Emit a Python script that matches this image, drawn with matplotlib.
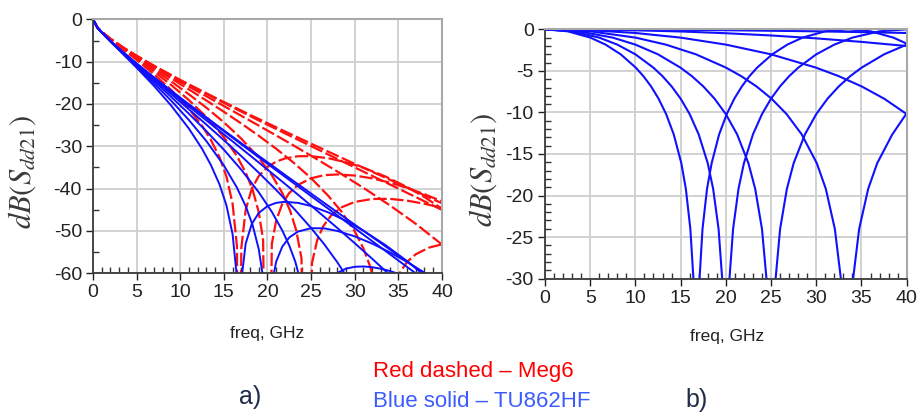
import matplotlib.pyplot as plt
from matplotlib.ticker import MultipleLocator

plt.rcParams['font.family'] = ['Liberation Sans', 'DejaVu Sans']
plt.rcParams['axes.unicode_minus'] = False
plt.rcParams['mathtext.fontset'] = 'stix'

# ---- a) insertion loss, Meg6 (red dashed) ----
meg6_f1 = [0, 0.5, 1, 2, 3.5, 5, 7, 9, 11, 12.5, 13.5, 14.5, 15.3, 16, 16.5, 16.75, 17, 17.5, 18.2, 19, 20, 21, 22, 23.5, 25, 27, 29, 31, 33.5, 36, 38, 40]
meg6_db1 = [0, -1.95, -2.99, -4.75, -7.18, -9.59, -12.98, -16.74, -21.13, -25.14, -28.42, -32.55, -37.14, -43.54, -53.58, -140, -54.08, -45.03, -40.02, -37.03, -34.89, -33.61, -32.87, -32.34, -32.32, -32.82, -33.76, -35.05, -37.11, -39.62, -42.0, -44.73]
meg6_f2 = [0, 0.5, 1, 2, 3.5, 5, 7, 9, 11, 13, 15, 16.5, 17.5, 18.3, 19, 19.5, 20, 20.5, 21, 21.7, 22.5, 23.5, 25, 26.5, 28, 30, 32, 34, 36, 38, 40]
meg6_db2 = [0, -1.95, -2.98, -4.71, -7.03, -9.29, -12.35, -15.57, -19.10, -23.07, -27.81, -32.31, -36.16, -40.28, -45.56, -52.06, -140, -53.03, -47.50, -43.58, -41.02, -39.12, -37.55, -36.81, -36.65, -36.90, -37.57, -38.56, -39.82, -41.31, -43.0]
meg6_f3 = [0, 0.5, 1, 2, 3.5, 5, 7, 9, 11, 13, 15, 17, 19, 20.5, 21.7, 22.6, 23.3, 23.9, 24.5, 25.1, 25.7, 26.4, 27.3, 28.5, 30, 32, 34, 36, 38, 40]
meg6_db3 = [0, -1.94, -2.97, -4.67, -6.92, -9.06, -11.87, -14.72, -17.72, -20.88, -24.32, -28.19, -32.70, -36.82, -41.03, -45.23, -49.88, -56.46, -140, -57.59, -52.15, -48.83, -46.34, -44.40, -43.14, -42.44, -42.41, -42.83, -43.57, -44.53]
meg6_f4 = [0, 0.5, 1, 2, 3.5, 5, 7, 9, 11, 13, 15, 17, 19, 21, 23, 25, 27, 28.5, 30, 31, 31.8, 32.5, 33.3, 34.1, 35, 36, 37, 38.5, 40]
meg6_db4 = [0, -1.94, -2.96, -4.64, -6.82, -8.84, -11.44, -13.99, -16.57, -19.17, -21.84, -24.61, -27.51, -30.57, -33.88, -37.51, -41.76, -45.47, -50.08, -54.12, -58.57, -64.66, -140, -66.12, -60.41, -57.30, -55.50, -53.94, -53.15]
meg6_f5 = [0, 0.5, 1, 2, 3.5, 5, 7, 10, 13, 16, 19, 22, 25, 28, 31, 34, 37, 40]
meg6_db5 = [0, -1.94, -2.95, -4.62, -6.75, -8.71, -11.17, -14.72, -18.18, -21.63, -25.10, -28.61, -32.22, -35.94, -39.81, -43.90, -48.31, -53.20]
meg6_f6 = [0, 0.5, 1, 2, 3.5, 5, 7, 10, 14, 18, 22, 26, 30, 34, 38, 40]
meg6_db6 = [0, -1.94, -2.95, -4.60, -6.70, -8.63, -11.02, -14.40, -18.69, -22.85, -26.93, -30.96, -34.98, -38.98, -43.0, -45.01]
meg6_f7 = [0, 0.5, 1, 2, 3.5, 5, 7, 10, 14, 18, 22, 26, 30, 34, 38, 40]
meg6_db7 = [0, -1.94, -2.95, -4.60, -6.70, -8.60, -10.96, -14.31, -18.51, -22.56, -26.48, -30.33, -34.13, -37.87, -41.59, -43.44]

# ---- a) insertion loss, TU862HF (blue solid) ----
tu_f1 = [0, 0.5, 1, 2, 3.5, 5, 7, 9, 11, 12.5, 13.5, 14.5, 15.3, 16, 16.5, 16.75, 17, 17.5, 18.2, 19, 20, 21, 22, 23.5, 25, 27, 29, 31, 33.5, 36, 38, 40]
tu_db1 = [0, -1.92, -3.12, -5.26, -8.33, -11.42, -15.74, -20.47, -25.83, -30.58, -34.36, -38.99, -43.98, -50.74, -61.03, -140, -61.78, -52.99, -48.34, -45.75, -44.12, -43.35, -43.12, -43.36, -44.11, -45.64, -47.61, -49.94, -53.30, -57.12, -60.54, -64.31]
tu_f2 = [0, 0.5, 1, 2, 3.5, 5, 7, 9, 11, 13, 15, 16.5, 17.5, 18.3, 19, 19.5, 20, 20.5, 21, 21.7, 22.5, 23.5, 25, 26.5, 28, 30, 32, 34, 36, 38, 40]
tu_db2 = [0, -1.92, -3.11, -5.22, -8.18, -11.12, -15.11, -19.30, -23.80, -28.77, -34.51, -39.76, -44.12, -48.64, -54.28, -61.03, -140, -62.51, -57.24, -53.68, -51.53, -50.14, -49.34, -49.38, -49.99, -51.27, -52.98, -55.02, -57.32, -59.85, -62.58]
tu_f3 = [0, 0.5, 1, 2, 3.5, 5, 7, 9, 11, 13, 15, 17, 19, 20.5, 21.7, 22.5, 23.2, 24, 25, 26, 27, 28, 29, 30, 31, 32, 33, 34, 36]
tu_db3 = [0, -1.91, -3.10, -5.18, -8.06, -10.87, -14.59, -18.39, -22.31, -26.42, -30.79, -35.53, -40.85, -45.48, -49.89, -53.45, -57.32, -63.58, -140, -66.50, -61.95, -59.91, -58.90, -58.46, -58.38, -58.56, -58.92, -59.44, -60.79]
tu_f4 = [0, 0.5, 1, 2, 3.5, 5, 7, 9, 11, 13, 15, 17, 19, 21, 23, 25, 26.5, 28, 29, 30]
tu_db4 = [0, -1.91, -3.09, -5.15, -7.97, -10.67, -14.20, -17.72, -21.27, -24.87, -28.54, -32.31, -36.23, -40.31, -44.64, -49.30, -53.12, -57.37, -60.56, -64.22]
tu_f5 = [0, 0.5, 1, 2, 3.5, 5, 7, 10, 13, 16, 19, 22, 25, 28, 30, 32, 34, 36]
tu_db5 = [0, -1.91, -3.08, -5.13, -7.90, -10.54, -13.93, -18.93, -23.88, -28.83, -33.82, -38.86, -44.01, -49.28, -52.88, -56.56, -60.36, -64.30]
tu_f6 = [0, 0.5, 1, 2, 3.5, 5, 7, 10, 14, 18, 22, 26, 30, 34, 38, 40]
tu_db6 = [0, -1.91, -3.08, -5.11, -7.86, -10.46, -13.78, -18.61, -24.89, -31.06, -37.18, -43.27, -49.35, -55.44, -61.54, -64.59]
tu_f7 = [0, 0.5, 1, 2, 3.5, 5, 7, 10, 14, 18, 22, 26, 30, 34, 38, 40]
tu_db7 = [0, -1.91, -3.08, -5.11, -7.85, -10.44, -13.73, -18.52, -24.71, -30.77, -36.73, -42.64, -48.50, -54.33, -60.13, -63.02]

# ---- b) loss-free curves ----
b_f1 = [0, 2.51, 5.03, 6.7, 8.38, 10.05, 10.89, 11.73, 12.56, 13.4, 14.24, 15.08, 15.58, 16.08, 16.42, 16.58, 16.75,
        16.92, 17.09, 17.42, 17.92, 18.43, 19.26, 20.1, 20.94, 21.78, 22.61, 23.45, 25.13, 26.8, 28.48, 30.99, 33.5, 36.01, 38.53, 40]
b_db1 = [0, -0.24, -1.0, -1.84, -3.01, -4.62, -5.64, -6.86, -8.34, -10.2, -12.64, -16.11, -19.2, -24.04, -30.06, -36.08, -90,
         -36.08, -30.06, -24.04, -19.2, -16.11, -12.64, -10.2, -8.34, -6.86, -5.64, -4.62, -3.01, -1.84, -1.0, -0.24, 0, -0.24, -1.0, -1.72]
b_f2 = [0, 3, 6, 8, 10, 12, 13, 14, 15, 16, 17, 18, 18.6, 19.2, 19.6, 19.8, 20,
        20.2, 20.4, 20.8, 21.4, 22, 23, 24, 25, 26, 27, 28, 30, 32, 34, 37, 40]
b_db2 = [0, -0.24, -1.0, -1.84, -3.01, -4.62, -5.64, -6.86, -8.34, -10.2, -12.64, -16.11, -19.2, -24.04, -30.06, -36.08, -90,
         -36.08, -30.06, -24.04, -19.2, -16.11, -12.64, -10.2, -8.34, -6.86, -5.64, -4.62, -3.01, -1.84, -1.0, -0.24, 0]
b_f3 = [0, 3.75, 7.5, 10, 12.5, 15, 16.25, 17.5, 18.75, 20, 21.25, 22.5, 23.25, 24, 24.5, 24.75, 25,
        25.25, 25.5, 26, 26.75, 27.5, 28.75, 30, 31.25, 32.5, 33.75, 35, 37.5, 40]
b_db3 = [0, -0.24, -1.0, -1.84, -3.01, -4.62, -5.64, -6.86, -8.34, -10.2, -12.64, -16.11, -19.2, -24.04, -30.06, -36.08, -90,
         -36.08, -30.06, -24.04, -19.2, -16.11, -12.64, -10.2, -8.34, -6.86, -5.64, -4.62, -3.01, -1.84]
b_f4 = [0, 5.01, 10.02, 13.36, 16.7, 20.04, 21.71, 23.38, 25.05, 26.72, 28.39, 30.06, 31.06, 32.06, 32.73, 33.07, 33.4,
        33.73, 34.07, 34.74, 35.74, 36.74, 38.41, 40]
b_db4 = [0, -0.24, -1.0, -1.84, -3.01, -4.62, -5.64, -6.86, -8.34, -10.2, -12.64, -16.11, -19.2, -24.04, -30.06, -36.08, -90,
         -36.08, -30.06, -24.04, -19.2, -16.11, -12.64, -10.1]
b_f5 = [0, 5, 10, 15, 20, 25, 30, 32.5, 35, 37.5, 40]
b_db5 = [0, -0.11, -0.44, -1.0, -1.84, -3.01, -4.62, -5.64, -6.86, -8.34, -10.2]
b_f6 = [0, 5, 10, 15, 20, 25, 30, 35, 40]
b_db6 = [0, -0.03, -0.12, -0.26, -0.47, -0.74, -1.09, -1.51, -2.01]
b_f7 = [0, 10, 20, 30, 40]
b_db7 = [0, -0.03, -0.11, -0.24, -0.44]

meg6 = [(meg6_f1, meg6_db1), (meg6_f2, meg6_db2), (meg6_f3, meg6_db3), (meg6_f4, meg6_db4),
        (meg6_f5, meg6_db5), (meg6_f6, meg6_db6), (meg6_f7, meg6_db7)]
tu = [(tu_f1, tu_db1), (tu_f2, tu_db2), (tu_f3, tu_db3), (tu_f4, tu_db4),
      (tu_f5, tu_db5), (tu_f6, tu_db6), (tu_f7, tu_db7)]
lossless = [(b_f1, b_db1), (b_f2, b_db2), (b_f3, b_db3), (b_f4, b_db4),
            (b_f5, b_db5), (b_f6, b_db6), (b_f7, b_db7)]

RED = '#ff1010'
BLUE = '#1010ff'

fig = plt.figure(figsize=(9.19, 4.17), dpi=100)
ax1 = fig.add_axes([0.1012, 0.3446, 0.3797, 0.609])
ax2 = fig.add_axes([0.5930, 0.3317, 0.3936, 0.598])


def style(ax, ymin, ystep, yminor):
    ax.set_xlim(0, 40)
    ax.set_ylim(ymin, 0)
    ax.xaxis.set_major_locator(MultipleLocator(5))
    ax.xaxis.set_minor_locator(MultipleLocator(1))
    ax.yaxis.set_major_locator(MultipleLocator(ystep))
    ax.yaxis.set_minor_locator(MultipleLocator(yminor))
    ax.grid(True, which='major', color='#cfcfcf', lw=1.3)
    ax.set_axisbelow(True)
    ax.tick_params(which='major', direction='out', length=5, width=1,
                   labelsize=14, pad=3, colors='#222222')
    ax.tick_params(which='minor', direction='in', length=4, width=1, color='#333333')
    for s in ('left', 'bottom'):
        ax.spines[s].set_color('#3a3a3a')
        ax.spines[s].set_linewidth(1.3)
    for s in ('top', 'right'):
        ax.spines[s].set_color('#a8a8a8')
        ax.spines[s].set_linewidth(1.5)


style(ax1, -60, 10, 5)
style(ax2, -30, 5, 1)

for f, db in meg6:
    ax1.plot(f, db, color=RED, lw=1.6, ls=(0, (6, 1.6)))
for f, db in tu:
    ax1.plot(f, db, color=BLUE, lw=1.4)
for f, db in lossless:
    ax2.plot(f, db, color=BLUE, lw=1.5)

ylab = r'$dB(S_{dd21})$'
fig.text(0.024, 0.587, ylab, rotation=90, ha='center', va='center', fontsize=22, color='#3a3a3a')
fig.text(0.526, 0.592, ylab, rotation=90, ha='center', va='center', fontsize=22, color='#3a3a3a')
fig.text(0.2905, 0.201, 'freq, GHz', ha='center', va='center', fontsize=12.5, color='#222222')
fig.text(0.791, 0.192, 'freq, GHz', ha='center', va='center', fontsize=12.5, color='#222222')

fig.text(0.406, 0.108, 'Red dashed \u2013 Meg6', ha='left', va='center', fontsize=16, color='#ff0000')
fig.text(0.406, 0.036, 'Blue solid \u2013 TU862HF', ha='left', va='center', fontsize=16, color='#3b5bff')
fig.text(0.272, 0.048, 'a)', ha='center', va='center', fontsize=18, color='#1f2b48')
fig.text(0.758, 0.041, 'b)', ha='center', va='center', fontsize=18, color='#1f2b48')

fig.savefig('out.png', dpi=100)
